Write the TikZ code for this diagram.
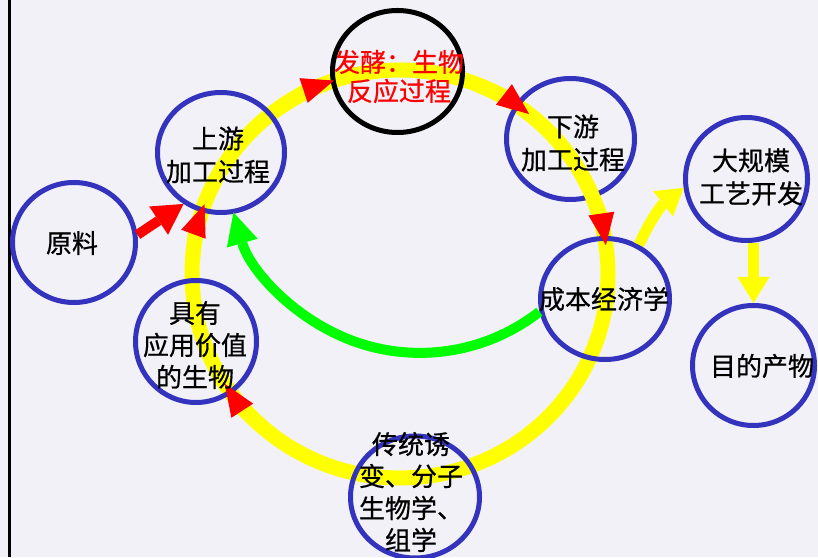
\documentclass[tikz,border=0pt]{standalone}
\usepackage{fontspec}
\newfontfamily\cjk[FakeBold=0.6]{Noto Sans CJK SC}
\usetikzlibrary{shapes.geometric,arrows.meta}
\definecolor{bgc}{RGB}{241,241,247}
\definecolor{ringblue}{RGB}{51,51,190}
\definecolor{yel}{RGB}{255,255,0}
\definecolor{grn}{RGB}{0,255,0}
\definecolor{rd}{RGB}{255,0,0}
\begin{document}
\begin{tikzpicture}[x=1pt,y=1pt,
  ring/.style={ellipse, draw=ringblue, line width=5pt, inner sep=0pt},
  lbl/.style={align=center, inner sep=0pt, font=\cjk\fontsize{26}{33}\selectfont},
  cyc/.style={draw=yel, line width=15pt},
  redtip/.style={cyc, -{Triangle[length=32pt,width=26pt,line width=0pt,color=rd]}},
  yarrow/.style={draw=yel, line width=11pt, -{Triangle[length=26pt,width=32pt,line width=0pt,color=yel]}},
  garrow/.style={draw=grn, line width=10pt, -{Triangle[length=32pt,width=32pt,line width=0pt,color=grn]}},
  rarrow/.style={draw=rd, line width=10pt, -{Triangle[length=30pt,width=34pt,line width=0pt,color=rd]}}
]
\useasboundingbox (0,0) rectangle (818,557);
\clip (0,0) rectangle (818,557);
\fill[bgc] (0,0) rectangle (818,557);
\draw[line width=2.4pt] (9.5,0) -- (9.5,557);

% big cycle
\coordinate (yc) at (400,283);
\draw[cyc] (yc) ellipse [x radius=208, y radius=204];

% rings
\node[ring, minimum width=123, minimum height=120] (yl) at (74,314.5) {};
\node[ring, minimum width=127, minimum height=120] (sy) at (221,404.5) {};
\node[ring, draw=black, minimum width=130, minimum height=122] (fj) at (397.5,485.5) {};
\node[ring, minimum width=128, minimum height=121] (xy) at (570.5,418) {};
\node[ring, minimum width=129, minimum height=121] (cb) at (605,258) {};
\node[ring, minimum width=122, minimum height=123] (dg) at (746.5,378) {};
\node[ring, minimum width=122, minimum height=120] (md) at (753.5,191.5) {};
\node[ring, minimum width=121, minimum height=122] (jy) at (196,215.5) {};
\node[ring, minimum width=129, minimum height=122] (ct) at (415,60) {};

% red arrowheads on the cycle
\foreach \t in {108.5,51.6,8.1,212.6,160}{
  \pgfmathsetmacro\s{\t+16}
  \draw[redtip] ([shift={(\s:208 and 204)}]yc) arc[start angle=\s, end angle=\t, x radius=208, y radius=204];
}

% other connectors
\draw[rarrow] (yl.7) -- (sy.234);
\draw[garrow] (cb.191) arc[start angle=-52, end angle=-164, radius=194];
\draw[yarrow] (cb.58) to[out=65, in=218] (dg.188);
\draw[yarrow] (md.north |- dg.south) -- (md.north);

% labels
\node[lbl] (t-yl) at (72,314) {原料};
\node[lbl] (t-sy) at (218,402) {上游\\加工过程};
\node[lbl, text=rd, font=\cjk\fontsize{26}{29}\selectfont] (t-fj) at (399,480.5) {发酵：生物\\反应过程};
\node[lbl] (t-xy) at (573,414) {下游\\加工过程};
\node[lbl] (t-cb) at (604,258) {成本经济学};
\node[lbl] (t-dg) at (751,380) {大规模\\工艺开发};
\node[lbl] (t-md) at (762,191) {目的产物};
\node[lbl, font=\cjk\fontsize{26}{32}\selectfont] (t-jy) at (195,212) {具有\\应用价值\\的生物};
\node[lbl, font=\cjk\fontsize{26}{32}\selectfont] (t-ct) at (411,65) {传统诱\\变、分子\\生物学、\\组学};
\end{tikzpicture}
\end{document}
